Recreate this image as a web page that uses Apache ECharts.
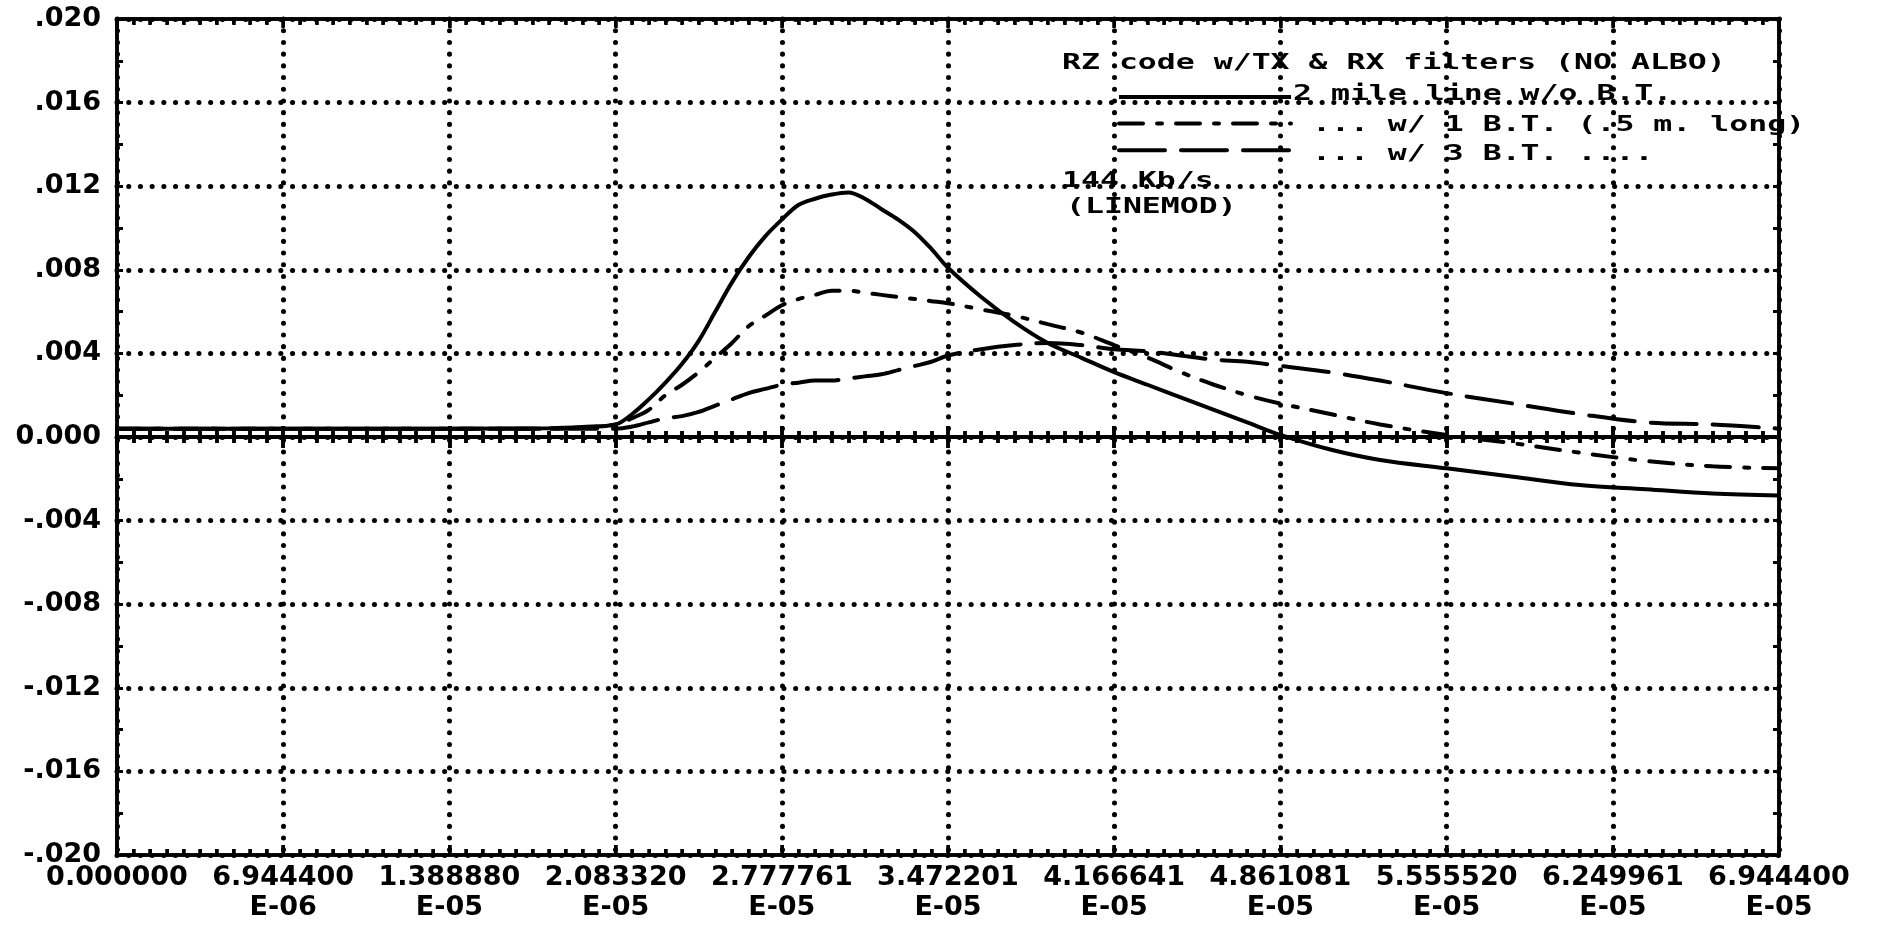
<!DOCTYPE html>
<html>
<head>
<meta charset="utf-8">
<script src="https://cdn.jsdelivr.net/npm/echarts@6/dist/echarts.min.js"></script>
<style>
html,body{margin:0;padding:0;background:#fff;}
#chart{width:1880px;height:927px;}
</style>
</head>
<body>
<div id="chart"></div>
<script>
// ---- data (time in units of 1E-05 s, values in volts) ----
const timeE5 = [0, 0.6944, 1.3889, 1.8056, 1.9444, 2.0833, 2.1528, 2.2222, 2.2917, 2.3611,
  2.4305, 2.5000, 2.5694, 2.6389, 2.7083, 2.7778, 2.8472, 2.9166, 2.9861, 3.0555,
  3.1250, 3.1944, 3.2639, 3.3333, 3.4028, 3.4722, 3.6111, 3.7500, 3.8889, 4.0278,
  4.1666, 4.3055, 4.4444, 4.5833, 4.7222, 4.8611, 5.0694, 5.2778, 5.5555, 5.8333,
  6.1111, 6.3889, 6.6666, 6.9444];

const noBT = [0.0004, 0.0004, 0.0004, 0.00042, 0.00048, 0.0006, 0.0011, 0.0018, 0.0026, 0.0035,
  0.0046, 0.0060, 0.0074, 0.0086, 0.0096, 0.0104, 0.0111, 0.0114, 0.0116, 0.0117,
  0.0114, 0.0109, 0.0104, 0.0098, 0.0090, 0.0081, 0.0067, 0.0055, 0.0045, 0.0038,
  0.0031, 0.0025, 0.0019, 0.0013, 0.0007, 0.0001, -0.0006, -0.0011, -0.0015, -0.0019,
  -0.0023, -0.0025, -0.0027, -0.0028];

const oneBT = [0.0004, 0.0004, 0.0004, 0.0004, 0.00045, 0.0006, 0.0009, 0.0013, 0.0020, 0.0025,
  0.0031, 0.0038, 0.0045, 0.0053, 0.0058, 0.0063, 0.0066, 0.0068, 0.0070, 0.0070,
  0.0069, 0.0068, 0.0067, 0.0066, 0.0065, 0.0064, 0.0061, 0.0058, 0.0054, 0.0050,
  0.0044, 0.0038, 0.0031, 0.0025, 0.0020, 0.0016, 0.0011, 0.0006, 0.0001, -0.0003,
  -0.00075, -0.00115, -0.0014, -0.0015];

const threeBT = [0.0004, 0.0004, 0.0004, 0.0004, 0.0004, 0.0004, 0.0005, 0.0007, 0.0009, 0.0010,
  0.0012, 0.0015, 0.0018, 0.0021, 0.0023, 0.0025, 0.0026, 0.0027, 0.0027, 0.0028,
  0.0029, 0.0030, 0.0032, 0.0034, 0.0036, 0.0039, 0.0042, 0.0044, 0.0045, 0.0044,
  0.0042, 0.0041, 0.0039, 0.0037, 0.0036, 0.0034, 0.0031, 0.0027, 0.0021, 0.0016,
  0.0011, 0.0007, 0.0006, 0.0004];

const seriesNames = ['2 mile line w/o B.T.', '... w/ 1 B.T. (.5 m. long)', '... w/ 3 B.T. ....'];

const xTickLabels = ['0.000000', '6.944400\nE-06', '1.388880\nE-05', '2.083320\nE-05', '2.777761\nE-05',
  '3.472201\nE-05', '4.166641\nE-05', '4.861081\nE-05', '5.555520\nE-05', '6.249961\nE-05', '6.944400\nE-05'];
const yTickLabels = ['-.020', '-.016', '-.012', '-.008', '-.004', '0.000', '.004', '.008', '.012', '.016', '.020'];

const titleLines = ['RZ code w/TX & RX filters (NO ALBO)'];
const noteLines = ['144 Kb/s', '(LINEMOD)'];

// ---- axis settings ----
const X_MIN = 0, X_MAX = 6.9444, X_STEP = 0.69444;
const Y_MIN = -0.02, Y_MAX = 0.02, Y_STEP = 0.004;

// ---- layout ----
const W = 1880, H = 927;
const GRID = { left: 117, right: 101, top: 19, bottom: 72 };
const PLOT_H = H - GRID.top - GRID.bottom;
const ZERO_Y = GRID.top + PLOT_H * (Y_MAX / (Y_MAX - Y_MIN));
const ZERO_OFFSET = -(PLOT_H - (ZERO_Y - GRID.top));

const pair = (xs, ys) => xs.map((x, i) => [x, ys[i]]);
const tickFont = { fontFamily: 'DejaVu Sans', fontWeight: 'bold', fontSize: 27, color: '#000' };
const dotted = { color: '#000', width: 5, type: [0.1, 11.6], cap: 'round' };
const blk = (w) => ({ color: '#000', width: w });

const baseX = { type: 'value', min: X_MIN, max: X_MAX, interval: X_STEP };
const baseY = { type: 'value', min: Y_MIN, max: Y_MAX, interval: Y_STEP };

// thin tick bands (grids whose split lines form the tick combs)
const bands = [
  { top: ZERO_Y - 11, height: 22, major: true },
  { top: ZERO_Y - 6, height: 12, major: false },
  { top: H - GRID.bottom - 10, height: 10, major: true },
  { top: H - GRID.bottom - 6, height: 6, major: false },
  { top: GRID.top, height: 9, major: true },
  { top: GRID.top, height: 6, major: false }
];

const zeroX = (pos) => Object.assign({}, baseX, {
  gridIndex: 0, position: pos, offset: ZERO_OFFSET,
  axisLine: { show: true, onZero: false, lineStyle: blk(4) },
  axisTick: { show: true, inside: false, length: 11, lineStyle: blk(3.5) },
  minorTick: { show: true, splitNumber: 10, length: 6, lineStyle: blk(3.5) },
  axisLabel: { show: false }, splitLine: { show: false }
});

const bandX = (b, i) => Object.assign({}, baseX, {
  gridIndex: i + 1, position: 'bottom',
  axisLine: { show: false }, axisTick: { show: false }, axisLabel: { show: false },
  minorTick: { show: false, splitNumber: 10 },
  splitLine: { show: b.major, lineStyle: blk(3.5) },
  minorSplitLine: { show: !b.major, lineStyle: blk(3.5) }
});
const bandY = (b, i) => Object.assign({}, baseY, { gridIndex: i + 1, show: false, splitLine: { show: false } });

const mono = 'bold 21px "DejaVu Sans Mono"';
const legendText = (name, i) => ({
  type: 'text', x: [1293, 1312, 1312][i], y: [95, 126, 155][i], scaleX: 1.5, z: 10,
  style: { text: name, font: mono, fill: '#000', textVerticalAlign: 'middle' }
});

const chart = echarts.init(document.getElementById('chart'), null, { renderer: 'canvas' });

const option = {
  animation: false,
  backgroundColor: '#fff',
  grid: [Object.assign({ show: true, borderColor: '#000', borderWidth: 3.5 }, GRID)].concat(
    bands.map(b => ({ left: GRID.left, right: GRID.right, top: b.top, height: b.height, show: false }))),
  legend: {
    data: seriesNames, orient: 'vertical', left: 1112, top: 85,
    itemWidth: 172, itemHeight: 14, itemGap: 14, selectedMode: false,
    itemStyle: { opacity: 0 },
    lineStyle: { color: '#000', width: 4 },
    formatter: () => '', textStyle: { fontSize: 1 }
  },
  xAxis: [
    Object.assign({}, baseX, {
      gridIndex: 0, position: 'bottom',
      axisLine: { show: true, onZero: false, lineStyle: blk(3.5) },
      axisTick: { show: true, inside: true, length: 10, lineStyle: blk(3) },
      minorTick: { show: true, splitNumber: 10, length: 6, lineStyle: blk(3) },
      axisLabel: Object.assign({}, tickFont, { margin: 8, lineHeight: 30,
        formatter: v => { const k = Math.round(v / X_STEP); return xTickLabels[k] !== undefined ? xTickLabels[k] : ''; } }),
      splitLine: { show: true, lineStyle: dotted }
    }),
    Object.assign({}, baseX, {
      gridIndex: 0, position: 'top',
      axisLine: { show: true, onZero: false, lineStyle: blk(3.5) },
      axisTick: { show: true, inside: true, length: 8, lineStyle: blk(3) },
      minorTick: { show: true, splitNumber: 10, length: 5, lineStyle: blk(3) },
      axisLabel: { show: false }, splitLine: { show: false }
    }),
    zeroX('bottom'),
    zeroX('top')
  ].concat(bands.map(bandX)),
  yAxis: [
    Object.assign({}, baseY, {
      gridIndex: 0, position: 'left',
      axisLine: { show: true, onZero: false, lineStyle: blk(3.5) },
      axisTick: { show: true, inside: true, length: 6, lineStyle: blk(3) },
      minorTick: { show: true, splitNumber: 2, length: 6, lineStyle: blk(3) },
      axisLabel: Object.assign({}, tickFont, { margin: 16,
        formatter: v => { const k = Math.round((v - Y_MIN) / Y_STEP); return yTickLabels[k] !== undefined ? yTickLabels[k] : ''; } }),
      splitLine: { show: true, lineStyle: dotted }
    }),
    Object.assign({}, baseY, {
      gridIndex: 0, position: 'right',
      axisLine: { show: true, onZero: false, lineStyle: blk(3.5) },
      axisTick: { show: true, inside: true, length: 6, lineStyle: blk(3) },
      minorTick: { show: true, splitNumber: 2, length: 6, lineStyle: blk(3) },
      axisLabel: { show: false }, splitLine: { show: false }
    })
  ].concat(bands.map(bandY)),
  series: [
    { name: seriesNames[0], type: 'line', xAxisIndex: 0, yAxisIndex: 0, data: pair(timeE5, noBT),
      symbol: 'none', smooth: 0.35, z: 5, itemStyle: { color: '#000' },
      lineStyle: { color: '#000', width: 4, type: 'solid' } },
    { name: seriesNames[1], type: 'line', xAxisIndex: 0, yAxisIndex: 0, data: pair(timeE5, oneBT),
      symbol: 'none', smooth: 0.35, z: 5, itemStyle: { color: '#000' },
      lineStyle: { color: '#000', width: 4, type: [24, 14, 5, 14], cap: 'round' } },
    { name: seriesNames[2], type: 'line', xAxisIndex: 0, yAxisIndex: 0, data: pair(timeE5, threeBT),
      symbol: 'none', smooth: 0.35, z: 5, itemStyle: { color: '#000' },
      lineStyle: { color: '#000', width: 4, type: [46, 16], cap: 'round' } }
  ],
  graphic: [
    { type: 'text', x: 1062, y: 64, scaleX: 1.5, z: 10,
      style: { text: titleLines[0], font: mono, fill: '#000', textVerticalAlign: 'middle' } },
    { type: 'text', x: 1062, y: 182, scaleX: 1.5, z: 10,
      style: { text: noteLines[0], font: mono, fill: '#000', textVerticalAlign: 'middle' } },
    { type: 'text', x: 1066, y: 208, scaleX: 1.5, z: 10,
      style: { text: noteLines[1], font: mono, fill: '#000', textVerticalAlign: 'middle' } }
  ].concat(seriesNames.map(legendText))
};

chart.setOption(option);
</script>
</body>
</html>
